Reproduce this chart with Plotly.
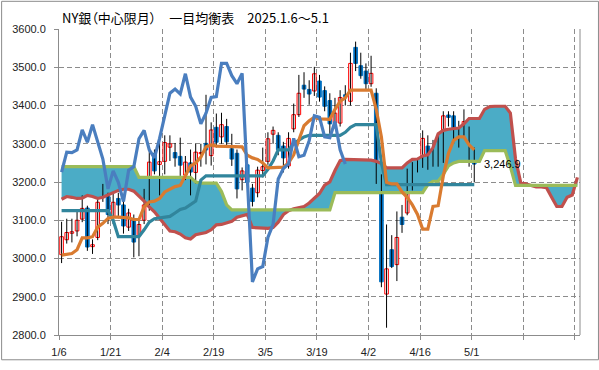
import plotly.graph_objects as go

# ---------------- data ----------------
title_text = "NY銀（中心限月）　一目均衡表　2025.1.6～5.1"
tick_labels = ["1/6", "1/21", "2/4", "2/19", "3/5", "3/19", "4/2", "4/16", "5/1", "", ""]

opens = [3010, 3049, 3066, 3072, 3103, 3132, 3031, 3055, 3159, 3163,
         3110, 3157, 3140, 3082, 3102, 3060, 3100, 3135, 3275, 3246,
         3254, 3291, 3277, 3267, 3218, 3250, 3225, 3274, 3301, 3269,
         3343, 3318, 3345, 3287, 3275, 3206, 3245, 3184, 3172, 3230,
         3254, 3325, 3322, 3294, 3242, 3339, 3376, 3453, 3442, 3438,
         3464, 3439, 3413, 3355, 3354, 3428, 3411, 3552, 3504, 3490,
         3457, 3432, 3216, 2907, 3023, 2984, 3108, 3119, 3231, 3244,
         3250, 3294, 3265, 3280, 3258, 3375, 3373, 3322, 3341, 3320,
         3281]
highs = [3096, 3104, 3104, 3123, 3165, 3138, 3050, 3158, 3195, 3172,
         3170, 3172, 3165, 3130, 3115, 3098, 3182, 3290, 3285, 3318,
         3322, 3322, 3302, 3316, 3268, 3285, 3300, 3300, 3428, 3356,
         3379, 3381, 3365, 3326, 3285, 3238, 3262, 3195, 3240, 3290,
         3330, 3345, 3330, 3305, 3330, 3405, 3480, 3487, 3466, 3501,
         3480, 3450, 3432, 3420, 3440, 3453, 3538, 3567, 3538, 3510,
         3530, 3445, 3220, 3089, 3061, 3123, 3140, 3235, 3252, 3263,
         3335, 3322, 3310, 3322, 3385, 3385, 3385, 3360, 3390, 3345,
         3290]
lows = [2988, 3039, 3042, 3058, 3095, 3020, 3012, 3048, 3148, 3090,
        3090, 3105, 3065, 3072, 3003, 3006, 3090, 3125, 3220, 3165,
        3220, 3255, 3240, 3216, 3205, 3165, 3196, 3240, 3246, 3243,
        3290, 3300, 3290, 3242, 3157, 3178, 3190, 3136, 3160, 3212,
        3245, 3300, 3270, 3225, 3235, 3330, 3370, 3420, 3402, 3425,
        3410, 3385, 3326, 3340, 3345, 3400, 3400, 3490, 3470, 3440,
        3449, 3195, 2925, 2819, 2975, 2941, 3067, 3113, 3178, 3225,
        3237, 3232, 3240, 3240, 3250, 3345, 3300, 3290, 3320, 3240,
        3199]
closes = [3057, 3068, 3070, 3100, 3131, 3030, 3036, 3147, 3171, 3115,
          3147, 3140, 3085, 3119, 3043, 3089, 3140, 3252, 3229, 3253,
          3303, 3300, 3263, 3244, 3252, 3226, 3278, 3277, 3284, 3336,
          3304, 3350, 3305, 3260, 3182, 3229, 3199, 3149, 3231, 3240,
          3313, 3335, 3284, 3263, 3314, 3376, 3432, 3443, 3430, 3483,
          3422, 3398, 3352, 3380, 3421, 3423, 3510, 3510, 3478, 3457,
          3484, 3212, 2939, 2973, 2979, 3055, 3089, 3208, 3235, 3247,
          3314, 3266, 3270, 3308, 3373, 3369, 3318, 3316, 3358, 3284,
          3246.9]

tenkan = [3009, 3012, 3013, 3023, 3054, 3054, 3057, 3082, 3092, 3105,
          3108, 3108, 3108, 3106, 3102, 3102, 3135, 3148, 3150, 3157,
          3174, 3182, 3188, 3191, 3216, 3242, 3250, 3265, 3292, 3297,
          3294, 3294, 3292, 3292, 3292, 3292, 3270, 3263, 3259, 3250,
          3237, 3237, 3239, 3239, 3250, 3271, 3310, 3347, 3360, 3369,
          3365, 3364, 3364, 3390, 3411, 3420, 3440, 3440, 3440, 3440,
          3440, 3390, 3318, 3199, 3195, 3195, 3174, 3160, 3140, 3115,
          3077, 3077, 3136, 3138, 3216, 3275, 3309, 3318, 3318, 3297,
          3284]
kijun = [3125, 3125, 3125, 3125, 3125, 3125, 3125, 3125, 3125, 3125,
         3100, 3057, 3057, 3057, 3057, 3057, 3075, 3095, 3104, 3106,
         3108, 3110, 3119, 3128, 3132, 3140, 3150, 3205, 3216, 3216,
         3216, 3216, 3216, 3216, 3216, 3216, 3216, 3216, 3216, 3216,
         3233, 3255, 3284, 3284, 3284, 3301, 3310, 3318, 3322, 3322,
         3322, 3322, 3322, 3322, 3322, 3330, 3343, 3350, 3350, 3350,
         3350, 3350, 3250, 3193, 3193, 3193, 3193, 3193, 3193, 3193,
         3193, 3193, 3193, 3193, 3193, 3193, 3193, 3193, 3193, 3193,
         3193]
senkou_a = [3155, 3162, 3160, 3157, 3158, 3165, 3162, 3157, 3160, 3166,
            3170, 3178, 3181, 3181, 3176, 3164, 3150, 3135, 3122, 3105,
            3088, 3072, 3070, 3064, 3054, 3051, 3062, 3066, 3068, 3075,
            3088, 3089, 3092, 3097, 3108, 3112, 3115, 3081, 3080, 3079,
            3079, 3081, 3095, 3115, 3125, 3130, 3134, 3136, 3145, 3158,
            3170, 3192, 3200, 3230, 3256, 3259, 3259, 3259, 3258, 3258,
            3257, 3254, 3248, 3237, 3237, 3237, 3237, 3250, 3259, 3260,
            3268, 3271, 3290, 3326, 3335, 3338, 3340, 3341, 3352, 3366,
            3366, 3366, 3390, 3397, 3398, 3398, 3398, 3380, 3260, 3199,
            3195, 3191, 3187, 3187, 3185, 3160, 3136, 3136, 3160, 3166,
            3212]
senkou_b = [3240, 3240, 3240, 3240, 3240, 3240, 3240, 3240, 3240, 3240,
            3240, 3240, 3240, 3240, 3240, 3212, 3212, 3212, 3212, 3212,
            3212, 3212, 3212, 3212, 3212, 3212, 3200, 3197, 3197, 3197,
            3197, 3175, 3140, 3127, 3127, 3127, 3127, 3127, 3127, 3127,
            3127, 3127, 3127, 3127, 3127, 3127, 3127, 3127, 3127, 3127,
            3127, 3127, 3127, 3172, 3172, 3172, 3172, 3172, 3172, 3172,
            3172, 3172, 3172, 3172, 3172, 3172, 3172, 3172, 3172, 3172,
            3172, 3193, 3202, 3202, 3220, 3242, 3250, 3254, 3254, 3254,
            3254, 3254, 3282, 3282, 3282, 3282, 3282, 3240, 3191, 3191,
            3191, 3191, 3191, 3191, 3191, 3191, 3191, 3191, 3191, 3191,
            3191]
chikou_shift = 25  # lagging span = close plotted 25 sessions back

# ---------------- styles ----------------
C_CLOUD = "#4BACC6"
C_SPAN_A = "#C0504D"
C_SPAN_B = "#9BBB59"
C_TENKAN = "#D97B30"
C_KIJUN = "#31859C"
C_CHIKOU = "#4A7EBF"
C_UP = "#FF0000"
C_DOWN = "#0070C0"
GRID = "#8C8C8C"
AXIS = "#8C8C8C"
NUM_FONT = "Liberation Sans, Arial, sans-serif"
JP_FONT = "Noto Sans CJK JP, sans-serif"

n = len(closes)
xs = list(range(n))
xf = list(range(len(senkou_a)))

fig = go.Figure()

# cloud
fig.add_trace(go.Scatter(x=xf, y=senkou_a, mode="lines", line=dict(width=0),
                         hoverinfo="skip", showlegend=False))
fig.add_trace(go.Scatter(x=xf, y=senkou_b, mode="lines", line=dict(width=0),
                         fill="tonexty", fillcolor=C_CLOUD,
                         hoverinfo="skip", showlegend=False))

# wicks
wx, wy = [], []
for i in xs:
    wx += [i, i, None]
    wy += [lows[i], highs[i], None]
fig.add_trace(go.Scatter(x=wx, y=wy, mode="lines", line=dict(color="black", width=1),
                         hoverinfo="skip", showlegend=False))

# bodies
up_x = [i for i in xs if closes[i] >= opens[i]]
dn_x = [i for i in xs if closes[i] < opens[i]]
fig.add_trace(go.Bar(x=up_x, base=[opens[i] for i in up_x],
                     y=[closes[i] - opens[i] for i in up_x], width=0.7,
                     marker=dict(color="white", line=dict(color=C_UP, width=1)),
                     showlegend=False, hoverinfo="skip"))
fig.add_trace(go.Bar(x=dn_x, base=[closes[i] for i in dn_x],
                     y=[opens[i] - closes[i] for i in dn_x], width=0.7,
                     marker=dict(color=C_DOWN, line=dict(color=C_DOWN, width=1)),
                     showlegend=False, hoverinfo="skip"))

# lines
def line(x, y, color):
    fig.add_trace(go.Scatter(x=x, y=y, mode="lines",
                             line=dict(color=color, width=3.2),
                             hoverinfo="skip", showlegend=False))

line(xf, senkou_a, C_SPAN_A)
line(xf, senkou_b, C_SPAN_B)
line(xs, kijun, C_KIJUN)
line(xs, tenkan, C_TENKAN)
chikou = closes[chikou_shift:]
line(list(range(len(chikou))), chikou, C_CHIKOU)

# last price label
fig.add_annotation(x=xs[-1], y=closes[-1], text=f"{closes[-1]:,.1f}",
                   xanchor="left", yanchor="middle", xshift=8, showarrow=False,
                   font=dict(family=NUM_FONT, size=11, color="black"))

# title (proportional CJK punctuation like the original)
fig.add_annotation(xref="paper", yref="paper", x=0.002, y=1.037,
                   text="<span style=\"font-feature-settings:'palt'\">" + title_text + "</span>",
                   showarrow=False, xanchor="left", yanchor="middle",
                   font=dict(family=JP_FONT, size=13, color="black"))

L, R, T, B = 58, 19, 29, 26
W, H = 599, 370
pw, ph = W - L - R, H - T - B
# outer border and right border of plot area
fig.add_shape(type="rect", xref="paper", yref="paper",
              x0=-(L - 0.5) / pw, x1=(W - 0.5 - L) / pw,
              y0=-(B - 0.5) / ph, y1=(ph + T - 0.5) / ph,
              line=dict(color=AXIS, width=1))
fig.add_shape(type="line", xref="paper", yref="paper", x0=1, x1=1, y0=0, y1=1,
              line=dict(color=AXIS, width=1))

fig.update_layout(
    width=W, height=H, margin=dict(l=L, r=R, t=T, b=B),
    paper_bgcolor="white", plot_bgcolor="white",
    barmode="overlay", showlegend=False, hovermode=False,
    xaxis=dict(range=[-0.5, len(senkou_a) - 0.5],
               tickmode="array",
               tickvals=[k * 10 - 0.5 for k in range(len(tick_labels))],
               ticktext=tick_labels,
               showgrid=True, gridcolor=GRID, griddash="5px,3px", gridwidth=1,
               showline=True, linecolor=AXIS, linewidth=1,
               ticks="outside", ticklen=4, tickcolor=AXIS, ticklabelstandoff=3,
               tickfont=dict(family=NUM_FONT, size=11, color="#222"),
               zeroline=False, fixedrange=True),
    yaxis=dict(range=[2800, 3600], dtick=100, tickformat=".1f",
               showgrid=True, gridcolor=GRID, griddash="5px,3px", gridwidth=1,
               showline=True, linecolor=AXIS, linewidth=1,
               ticks="outside", ticklen=4, tickcolor=AXIS, ticklabelstandoff=6,
               tickfont=dict(family=NUM_FONT, size=11, color="#222"),
               zeroline=False, fixedrange=True),
)

fig.write_html("out.html", config={"displayModeBar": False},
               post_script="document.body.style.margin='0px';document.body.style.padding='0px';")
